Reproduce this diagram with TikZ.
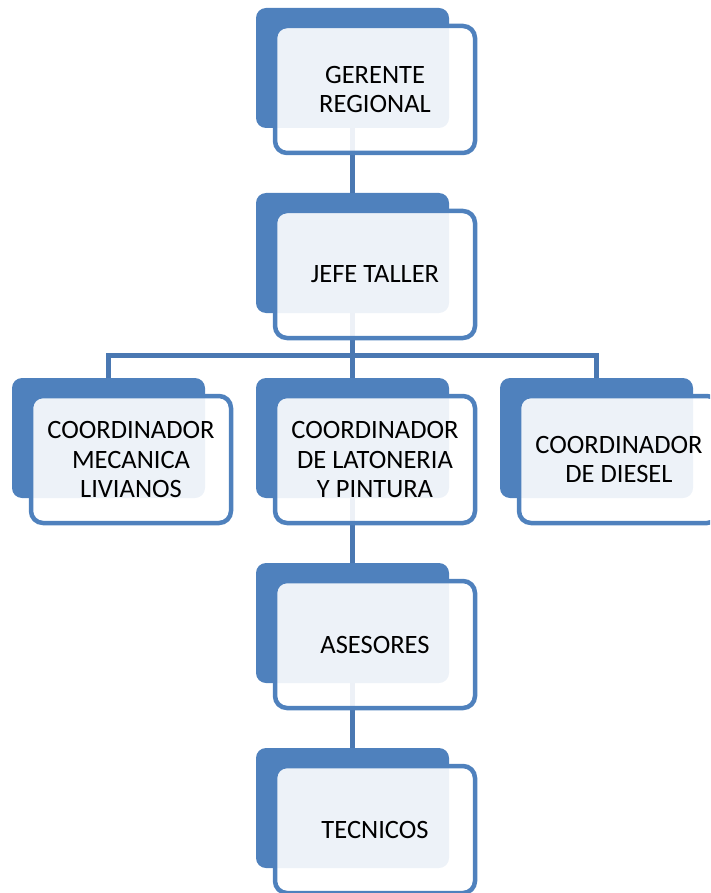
\documentclass[tikz,border=0pt]{standalone}
\usepackage{fontspec}
\setmainfont{Carlito}
\definecolor{backblue}{HTML}{4F81BD}
\definecolor{lineblue}{HTML}{4A78B2}
\begin{document}
\begin{tikzpicture}[x=1pt,y=-1pt,
  backbox/.style={fill=backblue, draw=none, rounded corners=10pt,
    minimum width=193pt, minimum height=120pt, inner sep=0pt, outer sep=0pt},
  frontbox/.style={fill=white, fill opacity=0.9, text opacity=1, draw=backblue,
    draw opacity=1, line width=4.5pt, rounded corners=12pt,
    minimum width=200pt, minimum height=127pt, inner sep=0pt, outer sep=0pt,
    align=center, font=\fontsize{26.5}{29.5}\selectfont},
  conn/.style={draw=lineblue, line width=5pt}]
\useasboundingbox (0,0) rectangle (710,893);
\clip (0,0) rectangle (710,893);
% back boxes
\node[backbox] (gb) at (352.5,68) {};
\node[backbox] (jb) at (352.5,253) {};
\node[backbox] (lb) at (108.5,438) {};
\node[backbox] (mb) at (352.5,438) {};
\node[backbox] (rb) at (596.5,438) {};
\node[backbox] (ab) at (352.5,623) {};
\node[backbox] (tb) at (352.5,808) {};
\coordinate (bar) at (352.5,355);
% connectors
\draw[conn] (gb.south) -- (jb.north);
\draw[conn] (jb.south) -- (bar);
\draw[conn] (lb.north) |- (bar) -| (rb.north);
\draw[conn] (bar) -- (mb.north);
\draw[conn] (mb.south) -- (ab.north);
\draw[conn] (ab.south) -- (tb.north);
% front boxes
\node[frontbox] (g) at (375,89.5) {GERENTE\\REGIONAL};
\node[frontbox] (j) at (375,274.5) {JEFE TALLER};
\node[frontbox] (l) at (131,459.5) {COORDINADOR\\MECANICA\\LIVIANOS};
\node[frontbox] (m) at (375,459.5) {COORDINADOR\\DE LATONERIA\\Y PINTURA};
\node[frontbox] (r) at (619,459.5) {COORDINADOR\\DE DIESEL};
\node[frontbox] (a) at (375,644.5) {ASESORES};
\node[frontbox] (t) at (375,829.5) {TECNICOS};
\end{tikzpicture}
\end{document}
